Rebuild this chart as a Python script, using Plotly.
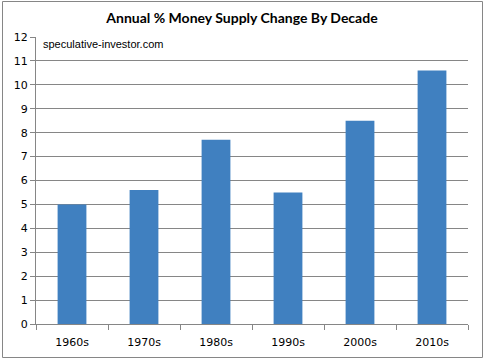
import plotly.graph_objects as go

decades = ["1960s", "1970s", "1980s", "1990s", "2000s", "2010s"]
values = [5.0, 5.6, 7.7, 5.5, 8.5, 10.6]
y_ticks = list(range(0, 13))

W, H = 484, 361
L, R, T, B = 36, 16, 37, 37
pw, ph = W - L - R, H - T - B

def px(x):
    return (x - L) / pw

def py(y):
    return (H - B - y) / ph

fig = go.Figure(go.Bar(x=decades, y=values, marker_color="#4080C0", marker_line_width=0, width=0.4,
                       hoverinfo="skip"))

fig.update_layout(
    width=W, height=H,
    margin=dict(l=L, r=R, t=T, b=B),
    paper_bgcolor="white", plot_bgcolor="white",
    showlegend=False,
    font=dict(family="DejaVu Sans", size=11, color="#000000"),
    title=dict(text="<b>Annual % Money Supply Change By Decade</b>", x=0.5, xanchor="center",
               y=1 - 18 / H, yanchor="middle", font=dict(family="Lato", size=14, color="#000000")),
    bargap=0.6,
)
fig.update_xaxes(showline=True, linecolor="#868686", linewidth=1, ticks="outside", tickson="boundaries",
                 ticklen=5, tickcolor="#868686", showgrid=False, tickfont=dict(family="DejaVu Sans", size=11),
                 ticklabelstandoff=8)
fig.update_yaxes(range=[0, 12], tickvals=y_ticks, showline=True, linecolor="#868686", linewidth=1,
                 ticks="outside", ticklen=5, tickcolor="#868686", gridcolor="#868686", gridwidth=1,
                 zeroline=False, tickfont=dict(family="DejaVu Sans", size=11))

fig.add_annotation(text="speculative-investor.com", xref="paper", yref="paper", x=px(41), y=py(44),
                   xanchor="left", yanchor="middle", showarrow=False,
                   font=dict(family="Liberation Sans", size=11, color="#000000"))

fig.add_shape(type="rect", xref="paper", yref="paper", x0=px(2.5), x1=px(482.5), y0=py(357.5), y1=py(1.5),
              line=dict(color="#868686", width=1), fillcolor="rgba(0,0,0,0)", layer="above")

fig.write_html("out.html", config={"displayModeBar": False},
               post_script="document.body.style.margin='0';document.body.style.overflow='hidden';")
